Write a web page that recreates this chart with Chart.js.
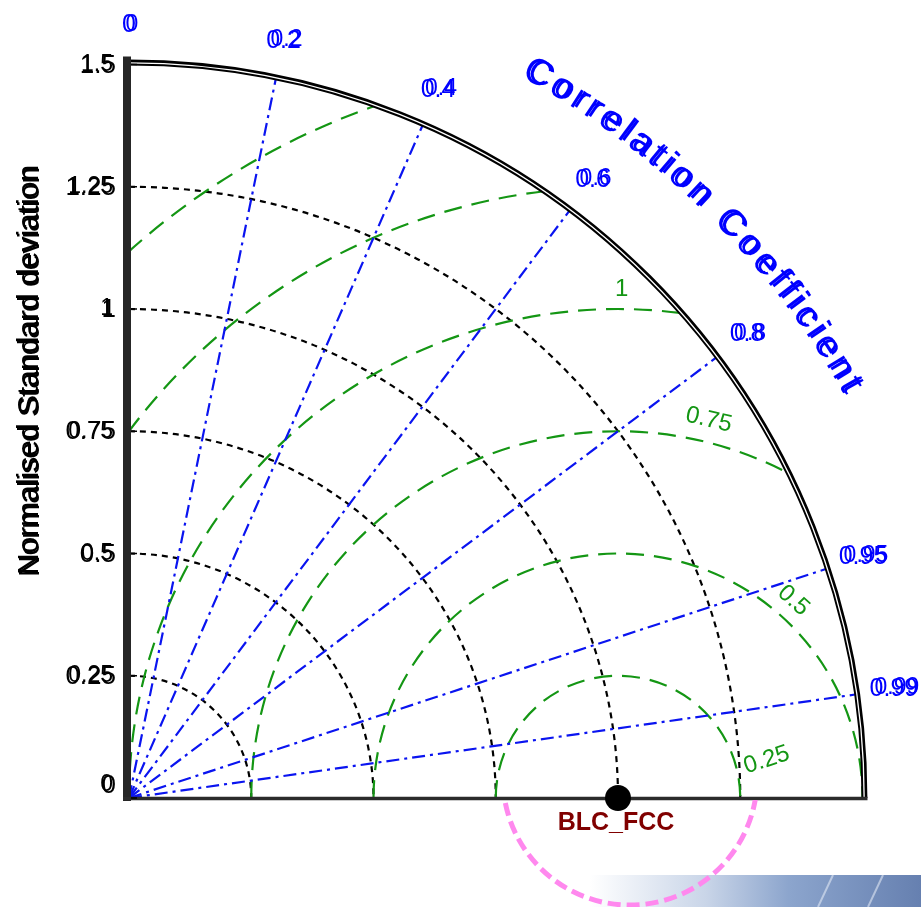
<!DOCTYPE html>
<html>
<head>
<meta charset="utf-8">
<script src="https://cdn.jsdelivr.net/npm/chart.js@4/dist/chart.umd.min.js"></script>
<style>
  html, body { margin: 0; padding: 0; background: #fff; }
  canvas { display: block; }
</style>
</head>
<body>
<canvas id="taylor" width="921" height="907"></canvas>
<script>
// Taylor diagram data
const stdTicks = [0, 0.25, 0.5, 0.75, 1, 1.25, 1.5];
const stdTickLabels = ['0', '0.25', '0.5', '0.75', '1', '1.25', '1.5'];
const corrTicks = [0, 0.2, 0.4, 0.6, 0.8, 0.95, 0.99];
const corrTickLabels = ['0', '0.2', '0.4', '0.6', '0.8', '0.95', '0.99'];
const rmsTicks = [0.25, 0.5, 0.75, 1, 1.25, 1.5];
const rmsTickLabels = ['0.25', '0.5', '0.75', '1'];
const models = ['BLC_FCC'];
const modelStd = [1.0];
const modelCorr = [1.0];
const stdMax = 1.5;

// pixel geometry of the picture: origin at (129, 798), 489 px per unit
const PX = 489, OX = 129, OY = 798, W = 921, H = 907;

// text drawn twice, slightly shifted, like the original rendering
function ghostText(ctx, text, x, y, size, color, align, shrink, dx) {
    ctx.fillStyle = color;
    ctx.textAlign = align;
    ctx.textBaseline = 'middle';
    ctx.font = size + 'px "Liberation Sans", Arial, sans-serif';
    ctx.fillText(text, x, y);
    ctx.font = (size - shrink) + 'px "Liberation Sans", Arial, sans-serif';
    ctx.fillText(text, x + dx, y - 1);
}

const taylorPlugin = {
    id: 'taylor',
    beforeDatasetsDraw(chart) {
        const ctx = chart.ctx;
        const xs = chart.scales.x, ys = chart.scales.y;
        const px = v => xs.getPixelForValue(v);
        const py = v => ys.getPixelForValue(v);
        const u = px(1) - px(0);
        const x0 = px(0), y0 = py(0);

        ctx.save();

        // background strip bottom right
        const g = ctx.createLinearGradient(590, 0, 921, 0);
        g.addColorStop(0, 'rgba(255,255,255,1)');
        g.addColorStop(0.35, '#c9d5e8');
        g.addColorStop(0.6, '#8ca5cd');
        g.addColorStop(1, '#6680b0');
        ctx.fillStyle = g;
        ctx.fillRect(590, 875, 331, 32);
        ctx.strokeStyle = 'rgba(235,240,250,0.55)';
        ctx.lineWidth = 2;
        [[818, 907, 833, 875], [868, 907, 883, 875]].forEach(s => {
            ctx.beginPath(); ctx.moveTo(s[0], s[1]); ctx.lineTo(s[2], s[3]); ctx.stroke();
        });

        // std dev arcs
        ctx.strokeStyle = '#000';
        ctx.lineWidth = 2.2;
        ctx.setLineDash([6, 5]);
        stdTicks.forEach(r => {
            if (r <= 0 || r >= stdMax) return;
            ctx.beginPath();
            ctx.arc(x0, y0, r * u, -Math.PI / 2, 0);
            ctx.stroke();
        });

        // RMS arcs around the reference point, clipped to the quarter disk
        ctx.save();
        ctx.beginPath();
        ctx.moveTo(x0, y0);
        ctx.arc(x0, y0, stdMax * u, -Math.PI / 2, 0);
        ctx.closePath();
        ctx.clip();
        ctx.strokeStyle = '#149614';
        ctx.lineWidth = 2.2;
        ctx.setLineDash([18, 10]);
        rmsTicks.forEach(r => {
            ctx.beginPath();
            ctx.arc(px(1), y0, r * u, Math.PI, 2 * Math.PI);
            ctx.stroke();
        });
        ctx.restore();

        // correlation lines
        ctx.strokeStyle = '#0a14f0';
        ctx.lineWidth = 2.2;
        ctx.setLineDash([13, 5, 3, 5]);
        corrTicks.forEach(c => {
            if (c === 0) return;
            const s = Math.sqrt(1 - c * c);
            ctx.beginPath();
            ctx.moveTo(x0, y0);
            ctx.lineTo(px(stdMax * c), py(stdMax * s));
            ctx.stroke();
        });
        ctx.setLineDash([]);

        // outer double arc
        ctx.strokeStyle = '#000';
        ctx.lineWidth = 2;
        ctx.beginPath(); ctx.arc(x0, y0, stdMax * u, -Math.PI / 2, 0); ctx.stroke();
        ctx.lineWidth = 2.6;
        ctx.beginPath(); ctx.arc(x0, y0, stdMax * u + 3.6, -Math.PI / 2, 0); ctx.stroke();

        // axes
        ctx.fillStyle = '#262626';
        ctx.fillRect(x0 - 6, y0 - stdMax * u - 8, 8, stdMax * u + 11);
        ctx.strokeStyle = '#2b2b2b';
        ctx.lineWidth = 3.5;
        ctx.beginPath(); ctx.moveTo(x0 - 6, y0 + 0.5); ctx.lineTo(x0 + stdMax * u + 5, y0 + 0.5); ctx.stroke();
        ctx.lineWidth = 1.5;
        ctx.strokeStyle = '#000';
        stdTicks.forEach(r => {
            ctx.beginPath(); ctx.moveTo(x0 + 2, py(r)); ctx.lineTo(x0 + 8, py(r)); ctx.stroke();
        });

        // std tick labels
        stdTicks.forEach((r, i) => {
            const y = r === 0 ? py(r) - 12 : py(r) + 1;
            ghostText(ctx, stdTickLabels[i], x0 - 13, y, 26, '#000', 'right', 3, -3);
        });

        // correlation tick labels
        corrTicks.forEach((c, i) => {
            const s = Math.sqrt(1 - c * c);
            ghostText(ctx, corrTickLabels[i], px(1.58 * c), py(1.58 * s), 25, '#0000ff', 'center', 2, 3);
        });

        // RMS labels: [label index, distance from ref, angle deg, rotation deg]
        ctx.fillStyle = '#149614';
        ctx.font = '24px "Liberation Sans", Arial, sans-serif';
        ctx.textAlign = 'center';
        ctx.textBaseline = 'middle';
        [[0, 0.314, 14.3, -18], [1, 0.54, 48.4, 41.6], [2, 0.795, 76.5, 13.5], [3, 1.04, 89.6, 0]].forEach(p => {
            const a = p[2] * Math.PI / 180;
            ctx.save();
            ctx.translate(px(1 + p[1] * Math.cos(a)), py(p[1] * Math.sin(a)));
            ctx.rotate(p[3] * Math.PI / 180);
            ctx.fillText(rmsTickLabels[p[0]], 0, 0);
            ctx.restore();
        });

        // axis title
        ctx.save();
        ctx.translate(31, 372);
        ctx.rotate(-Math.PI / 2);
        ghostText(ctx, 'Normalised Standard deviation', 0, 0, 30, '#000', 'center', 0, 2);
        ctx.restore();

        // curved correlation title
        const title = 'Correlation Coefficient';
        const R = 1.70 * u;
        const a1 = 61.5 * Math.PI / 180, a2 = 29.5 * Math.PI / 180;
        ctx.font = '37px "Liberation Sans", Arial, sans-serif';
        const widths = [...title].map(ch => ctx.measureText(ch).width);
        const total = widths.reduce((a, b) => a + b, 0);
        const gap = (R * (a1 - a2) - total) / (title.length - 1);
        let off = 0;
        [...title].forEach((ch, i) => {
            const a = a1 - (off + widths[i] / 2) / R;
            ctx.save();
            ctx.translate(x0 + R * Math.cos(a), y0 - R * Math.sin(a));
            ctx.rotate(Math.PI / 2 - a);
            ghostText(ctx, ch, 0, 0, 37, '#0000ff', 'center', 3, 3);
            ctx.restore();
            off += widths[i] + gap;
        });

        // observation circle below the axis
        ctx.save();
        ctx.beginPath();
        ctx.rect(0, y0 + 2, W, H);
        ctx.clip();
        ctx.strokeStyle = '#ff88ee';
        ctx.lineWidth = 5;
        ctx.setLineDash([13, 6]);
        ctx.beginPath();
        ctx.arc(px(1.0245), py(0.041), 0.26 * u, 0, 2 * Math.PI);
        ctx.stroke();
        ctx.restore();

        ctx.restore();
    },
    afterDatasetsDraw(chart) {
        const ctx = chart.ctx;
        const xs = chart.scales.x, ys = chart.scales.y;
        ctx.save();
        ctx.fillStyle = '#800000';
        ctx.font = 'bold 25px "Liberation Sans", Arial, sans-serif';
        ctx.textAlign = 'center';
        ctx.textBaseline = 'middle';
        models.forEach((m, i) => {
            const c = modelCorr[i];
            const x = xs.getPixelForValue(modelStd[i] * c);
            const y = ys.getPixelForValue(modelStd[i] * Math.sqrt(1 - c * c));
            ctx.fillText(m, x - 2, y + 25);
        });
        ctx.restore();
    }
};

new Chart(document.getElementById('taylor'), {
    type: 'scatter',
    data: {
        datasets: [{
            label: 'models',
            data: models.map((m, i) => ({
                x: modelStd[i] * modelCorr[i],
                y: modelStd[i] * Math.sqrt(1 - modelCorr[i] * modelCorr[i])
            })),
            pointRadius: 13,
            pointHoverRadius: 13,
            backgroundColor: '#000',
            borderWidth: 0,
            clip: false
        }]
    },
    options: {
        responsive: false,
        animation: false,
        layout: { padding: 0, autoPadding: false },
        plugins: { legend: { display: false }, tooltip: { enabled: false } },
        scales: {
            x: { type: 'linear', display: false, min: -OX / PX, max: (W - OX) / PX },
            y: { type: 'linear', display: false, min: -(H - OY) / PX, max: OY / PX }
        }
    },
    plugins: [taylorPlugin]
});
</script>
</body>
</html>
